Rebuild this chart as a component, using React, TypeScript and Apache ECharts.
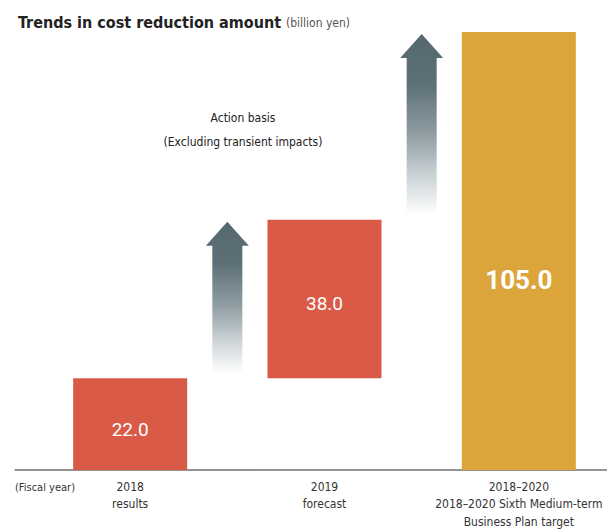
import React, { useEffect, useRef } from "react";
import * as echarts from "echarts";

const categories = [
  "2018\nresults",
  "2019\nforecast",
  "2018–2020\n2018–2020 Sixth Medium-term\nBusiness Plan target",
];
const baseValues = [0, 22, 0];
const amounts = [22, 38, 105];
// arrows: [from category index, low value, high value]
const arrows = [
  [0, 22, 60],
  [1, 60, 105],
];

const NARROW = "'Liberation Sans Narrow', 'DejaVu Sans Condensed', 'Roboto Condensed', Roboto, sans-serif";
const RED = "#d95a46";
const GOLD = "#dca53b";

export default function App() {
  const ref = useRef<HTMLDivElement>(null);
  useEffect(() => {
    if (!ref.current) return;
    const chart = echarts.init(ref.current, null, { renderer: "svg" });
    const arrowFill = new echarts.graphic.LinearGradient(0, 0, 0, 1, [
      { offset: 0, color: "#56686f" },
      { offset: 0.28, color: "#5d7077" },
      { offset: 0.55, color: "#8f9da3" },
      { offset: 0.8, color: "#cfd6d9" },
      { offset: 1, color: "#ffffff" },
    ]);
    chart.setOption({
      animation: false,
      backgroundColor: "#ffffff",
      title: {
        text: "{a|Trends in cost reduction amount} {b|(billion yen)}",
        left: 13,
        top: 8,
        textStyle: {
          rich: {
            a: { fontFamily: NARROW, fontSize: 16, fontWeight: "bold", color: "#222" },
            b: { fontFamily: NARROW, fontSize: 12, fontWeight: "normal", color: "#555", padding: [2, 0, 0, 0] },
          },
        },
      },
      graphic: [
        {
          type: "text",
          x: 243,
          y: 118,
          style: {
            text: "Action basis",
            fontFamily: NARROW,
            fontSize: 12,
            fill: "#222",
            align: "center",
            verticalAlign: "middle",
          },
        },
        {
          type: "text",
          x: 243,
          y: 142,
          style: {
            text: "(Excluding transient impacts)",
            fontFamily: NARROW,
            fontSize: 12,
            fill: "#222",
            align: "center",
            verticalAlign: "middle",
          },
        },
        {
          type: "text",
          x: 15,
          y: 487,
          style: {
            text: "(Fiscal year)",
            fontFamily: NARROW,
            fontSize: 11,
            fill: "#333",
            align: "left",
            verticalAlign: "middle",
          },
        },
      ],
      grid: [
        { left: 33, width: 583, top: 32, bottom: 59, outerBoundsMode: "none", containLabel: false },
        { left: 15, right: 0, top: 32, bottom: 59, outerBoundsMode: "none", containLabel: false },
      ],
      xAxis: [
        {
          type: "category",
          gridIndex: 0,
          data: categories,
          axisLine: { show: false },
          axisTick: { show: false },
          splitLine: { show: false },
          axisLabel: {
            interval: 0,
            margin: 8,
            lineHeight: 17.5,
            fontSize: 12,
            fontFamily: NARROW,
            color: "#333",
            hideOverlap: false,
          },
        },
        {
          type: "value",
          gridIndex: 1,
          min: 0,
          max: 1,
          axisLine: { show: true, lineStyle: { color: "#707070", width: 1.5 } },
          axisTick: { show: false },
          axisLabel: { show: false },
          splitLine: { show: false },
        },
      ],
      yAxis: [
        { type: "value", gridIndex: 0, min: 0, max: 105, show: false },
        { type: "value", gridIndex: 1, min: 0, max: 1, show: false },
      ],
      series: [
        {
          type: "bar",
          stack: "total",
          xAxisIndex: 0,
          yAxisIndex: 0,
          barWidth: 114,
          silent: true,
          itemStyle: { color: "transparent" },
          data: baseValues,
        },
        {
          type: "bar",
          stack: "total",
          xAxisIndex: 0,
          yAxisIndex: 0,
          barWidth: 114,
          label: {
            show: true,
            position: "inside",
            offset: [0, 5],
            color: "#ffffff",
            fontFamily: "Roboto, sans-serif",
            fontSize: 19,
            formatter: (p: any) => Number(p.value).toFixed(1),
          },
          data: amounts.map((v, i) => ({
            value: v,
            itemStyle: { color: i === amounts.length - 1 ? GOLD : RED },
            label:
              i === amounts.length - 1
                ? { fontSize: 26, fontWeight: "bold", offset: [0, 29] }
                : undefined,
          })),
        },
        {
          type: "custom",
          xAxisIndex: 0,
          yAxisIndex: 0,
          silent: true,
          encode: { x: 0, y: [1, 2] },
          data: arrows,
          renderItem: (params: any, api: any) => {
            const i = api.value(0);
            const lo = api.value(1);
            const hi = api.value(2);
            const a = api.coord([i, hi]);
            const b = api.coord([i + 1, hi]);
            const c = api.coord([i, lo]);
            const x = (a[0] + b[0]) / 2;
            const top = a[1] + 2;
            const bottom = c[1] - 5;
            const sw = 15;
            const hw = 21.5;
            const hh = 24;
            return {
              type: "polygon",
              shape: {
                points: [
                  [x - sw, bottom],
                  [x - sw, top + hh],
                  [x - hw, top + hh],
                  [x, top],
                  [x + hw, top + hh],
                  [x + sw, top + hh],
                  [x + sw, bottom],
                ],
              },
              style: { fill: arrowFill },
            };
          },
        },
      ],
    });
    return () => chart.dispose();
  }, []);
  return (
    <div
      ref={ref}
      style={{ position: "fixed", left: 0, top: 0, width: 607, height: 529 }}
    />
  );
}
